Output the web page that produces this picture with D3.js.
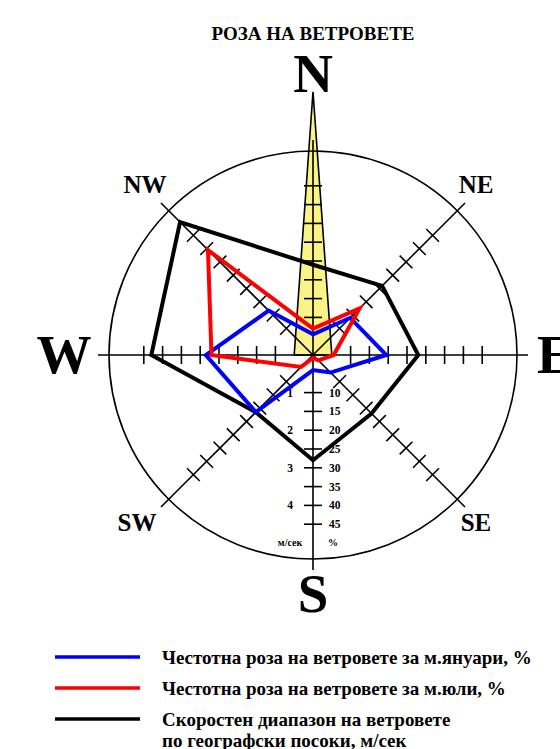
<!DOCTYPE html>
<html>
<head>
<meta charset="utf-8">
<script src="https://cdn.jsdelivr.net/npm/d3@7"></script>
<style>
  body { margin: 0; background: #fff; }
  svg text { font-family: "Liberation Serif", "Times New Roman", serif; font-weight: bold; }
</style>
</head>
<body>
<svg id="rose" width="560" height="749"></svg>
<script>
// directions, clockwise from north
const directions   = ["N", "NE", "E", "SE", "S", "SW", "W", "NW"];
const januaryPct   = [5.5, 14, 19.5, 6.6, 4, 21.5, 28.5, 16.7];
const julyPct      = [7, 17.5, 5.5, 2, 0.8, 4.5, 27, 39.5];
const speedMs      = [2.4, 2.6, 2.8, 2.2, 2.8, 2.15, 4.3, 5.0];
// yellow spike (N, E, S, W)
const spikeDirs    = ["N", "E", "S", "W"];
const spikePct     = [70, 5, 0, 5];
const pctTicks     = [10, 15, 20, 25, 30, 35, 40, 45];
const msTicks      = [1, 2, 3, 4];
const legendLabels = [
  ["Честотна роза на ветровете за м.януари, %"],
  ["Честотна роза на ветровете за м.юли, %"],
  ["Скоростен диапазон на ветровете", "по географски посоки, м/сек"]
];
const legendColors = ["#0000ff", "#ff0000", "#000000"];

const svg = d3.select("#rose"),
      cx = 313, cy = 355,
      circleR = 204, axisLen = 215;

const angle = d3.scaleOrdinal()
    .domain(directions)
    .range(directions.map((d, i) => i * Math.PI / 4));
const rPct = d3.scaleLinear().domain([0, 10]).range([0, 37.6]);
const rMs  = d3.scaleLinear().domain([0, 1]).range([0, 37.6]);

const g = svg.append("g").attr("transform", `translate(${cx},${cy})`);

// title
svg.append("text")
    .attr("x", cx)
    .attr("y", 40)
    .attr("text-anchor", "middle")
    .style("font-size", "19px")
    .text("РОЗА НА ВЕТРОВЕТЕ");

// yellow spike
g.append("path")
    .datum(spikeDirs.map((d, i) => [angle(d), rPct(spikePct[i])]))
    .attr("d", d3.lineRadial().angle(d => d[0]).radius(d => d[1]).curve(d3.curveLinearClosed))
    .attr("fill", "#faf486")
    .attr("stroke", "#000")
    .attr("stroke-width", 1.6)
    .attr("stroke-linejoin", "miter");

// outer circle
g.append("circle")
    .attr("r", circleR)
    .attr("fill", "none")
    .attr("stroke", "#000")
    .attr("stroke-width", 1.6);

// axes with ticks
directions.forEach(d => {
  const a = g.append("g")
      .attr("transform", `rotate(${angle(d) * 180 / Math.PI})`);
  a.append("line")
      .attr("x1", 0).attr("y1", 0)
      .attr("x2", 0).attr("y2", -axisLen)
      .attr("stroke", "#000")
      .attr("stroke-width", 1.6);
  a.selectAll(".tick")
    .data(pctTicks)
    .enter().append("line")
      .attr("class", "tick")
      .attr("x1", -9).attr("x2", 9)
      .attr("y1", v => -rPct(v)).attr("y2", v => -rPct(v))
      .attr("stroke", "#000")
      .attr("stroke-width", 1.6);
});

// scale labels on the south axis
g.selectAll(".pctLabel")
  .data(pctTicks)
  .enter().append("text")
    .attr("class", "pctLabel")
    .attr("x", 16)
    .attr("y", v => rPct(v) + 4)
    .style("font-size", "11.5px")
    .text(v => v);

g.selectAll(".msLabel")
  .data(msTicks)
  .enter().append("text")
    .attr("class", "msLabel")
    .attr("x", -23)
    .attr("y", v => rMs(v) + 4)
    .attr("text-anchor", "middle")
    .style("font-size", "11.5px")
    .text(v => v);

g.append("text")
    .attr("x", -23)
    .attr("y", rPct(50) + 3)
    .attr("text-anchor", "middle")
    .style("font-size", "10px")
    .text("м/сек");

g.append("text")
    .attr("x", 20)
    .attr("y", rPct(50) + 3)
    .attr("text-anchor", "middle")
    .style("font-size", "10px")
    .text("%");

// series polygons
const radial = d3.lineRadial()
    .angle(d => d[0])
    .radius(d => d[1])
    .curve(d3.curveLinearClosed);

function drawSeries(values, scale, color) {
  g.append("path")
      .datum(directions.map((d, i) => [angle(d), scale(values[i])]))
      .attr("d", radial)
      .attr("fill", "none")
      .attr("stroke", color)
      .attr("stroke-width", 4)
      .attr("stroke-linejoin", "miter");
}
drawSeries(speedMs, rMs, "#000000");
drawSeries(januaryPct, rPct, "#0000ff");
drawSeries(julyPct, rPct, "#ff0000");

// direction labels
const bigLabels = [
  {t: "N", x: 0, y: -263},
  {t: "S", x: 0, y: 257},
  {t: "W", x: -249, y: 18},
  {t: "E", x: 224, y: 18, anchor: "start"}
];
g.selectAll(".big")
  .data(bigLabels)
  .enter().append("text")
    .attr("class", "big")
    .attr("x", d => d.x)
    .attr("y", d => d.y)
    .attr("text-anchor", d => d.anchor || "middle")
    .style("font-size", "55px")
    .text(d => d.t);

const smallLabels = [
  {t: "NE", x: 163, y: -162},
  {t: "SE", x: 163, y: 176},
  {t: "SW", x: -176, y: 176},
  {t: "NW", x: -168, y: -162}
];
g.selectAll(".small")
  .data(smallLabels)
  .enter().append("text")
    .attr("class", "small")
    .attr("x", d => d.x)
    .attr("y", d => d.y)
    .attr("text-anchor", "middle")
    .style("font-size", "25px")
    .text(d => d.t);

// legend
const leg = svg.append("g").attr("transform", "translate(55,657)");
legendLabels.forEach((lines, i) => {
  leg.append("line")
      .attr("x1", 0).attr("x2", 85)
      .attr("y1", i * 31).attr("y2", i * 31)
      .attr("stroke", legendColors[i])
      .attr("stroke-width", 3.5);
  lines.forEach((s, j) => {
    leg.append("text")
        .attr("x", 107)
        .attr("y", i * 31 + 7 + j * 21)
        .style("font-size", "19px")
        .text(s);
  });
});
</script>
</body>
</html>
